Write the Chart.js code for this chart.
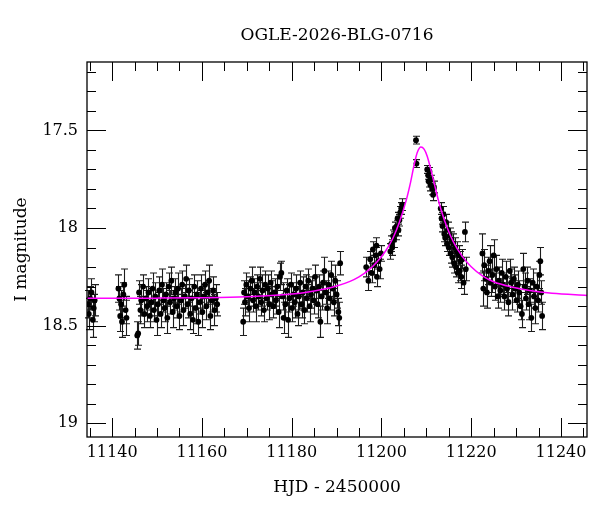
<!DOCTYPE html>
<html>
<head>
<meta charset="utf-8">
<title>OGLE-2026-BLG-0716</title>
<script src="https://cdn.jsdelivr.net/npm/chart.js@4.4.1/dist/chart.umd.min.js"></script>
<style>
  html, body { margin: 0; padding: 0; background: #fff; }
  #chart { display: block; }
</style>
</head>
<body>
<canvas id="chart" width="600" height="512"></canvas>
<script>
// OGLE I-band photometry (HJD - 2450000, mag, error)
const hjd = [
  11134.6, 11134.8, 11135.1, 11135.4, 11135.7, 11135.9, 11136.1,
  11141.4, 11141.6, 11141.8, 11142.0, 11142.2, 11142.5, 11142.7, 11143.0, 11143.2,
  11145.6, 11145.8, 11146.0, 11146.3, 11146.5, 11146.9, 11147.2, 11147.5, 11147.8, 11148.1,
  11148.4, 11148.7, 11149.0, 11149.3, 11149.6, 11149.9, 11150.2, 11150.5, 11150.8, 11151.1,
  11151.4, 11151.7, 11152.0, 11152.3, 11152.6, 11152.9, 11153.2, 11153.5, 11153.8, 11154.1,
  11154.4, 11154.7, 11155.0, 11155.3, 11155.6, 11155.9, 11156.2, 11156.5, 11156.8, 11157.1,
  11157.4, 11157.7, 11158.0, 11158.3, 11158.6, 11158.9, 11159.2, 11159.5, 11159.8, 11160.1,
  11160.4, 11160.7, 11161.0, 11161.3, 11161.6, 11161.9, 11162.2, 11162.5, 11162.8, 11163.1,
  11163.4,
  11169.2, 11169.4, 11169.6, 11169.9, 11170.2, 11170.5, 11170.8, 11171.1, 11171.4, 11171.7,
  11172.0, 11172.3, 11172.6, 11172.9, 11173.2, 11173.5, 11173.8, 11174.1, 11174.4, 11174.7,
  11175.0, 11175.3, 11175.6, 11175.9, 11176.2, 11176.5, 11176.8, 11177.1, 11177.4, 11177.7,
  11178.0, 11178.2, 11178.6, 11178.9, 11179.2, 11179.5, 11179.8, 11180.1, 11180.4, 11180.7,
  11181.0, 11181.3, 11181.6, 11181.9, 11182.2, 11182.5, 11182.8, 11183.1, 11183.4, 11183.7,
  11184.0, 11184.3, 11184.6, 11184.9, 11185.2, 11185.5, 11185.8, 11186.1, 11186.4, 11186.7,
  11187.0, 11187.3, 11187.6, 11187.9, 11188.2, 11188.5, 11188.8, 11189.1, 11189.4, 11189.7,
  11190.0, 11190.4, 11190.6, 11190.8,
  11196.6, 11197.1, 11197.5, 11197.8, 11198.1, 11198.4, 11198.7, 11198.9, 11199.0, 11199.3,
  11199.6, 11199.9,
  11202.0, 11202.2, 11202.4, 11202.6, 11202.8, 11203.0, 11203.2, 11203.4, 11203.6, 11203.8,
  11204.0, 11204.2, 11204.4, 11204.6,
  11207.7, 11207.8,
  11210.2, 11210.4, 11210.5, 11210.7, 11210.9, 11211.1, 11211.3, 11211.5, 11211.7,
  11213.2, 11213.4, 11213.6, 11213.8, 11214.0, 11214.2, 11214.4, 11214.6, 11214.8, 11215.0,
  11215.2, 11215.4, 11215.6, 11215.8, 11216.0, 11216.2, 11216.4, 11216.6, 11216.8, 11217.0,
  11217.2, 11217.4, 11217.6, 11217.8, 11218.0, 11218.3, 11218.6, 11218.8,
  11222.5, 11222.7, 11222.9, 11223.2, 11223.5, 11223.8, 11224.1, 11224.4, 11224.7, 11225.0,
  11225.3, 11225.6, 11225.9, 11226.2, 11226.5, 11226.8, 11227.1, 11227.4, 11227.7, 11228.0,
  11228.3, 11228.6, 11228.9, 11229.2, 11229.5, 11229.8, 11230.1, 11230.4, 11230.7, 11231.0,
  11231.3, 11231.6, 11231.9, 11232.2, 11232.5, 11232.8, 11233.1, 11233.4, 11233.7, 11234.0,
  11234.3, 11234.6, 11234.9, 11235.2, 11235.4, 11235.6, 11235.8
];

const mag = [
  18.39, 18.44, 18.36, 18.33, 18.47, 18.41, 18.37,
  18.31, 18.36, 18.45, 18.39, 18.48, 18.34, 18.29, 18.42, 18.46,
  18.55, 18.54, 18.33, 18.42, 18.37, 18.30, 18.44, 18.36, 18.40, 18.33,
  18.45, 18.38, 18.31, 18.42, 18.35, 18.47, 18.39, 18.32, 18.44, 18.29,
  18.37, 18.41, 18.34, 18.46, 18.30, 18.38, 18.27, 18.43, 18.36, 18.33,
  18.40, 18.31, 18.45, 18.37, 18.29, 18.42, 18.35, 18.26, 18.39, 18.32,
  18.44, 18.36, 18.47, 18.30, 18.41, 18.34, 18.48, 18.38, 18.31, 18.43,
  18.35, 18.29, 18.40, 18.33, 18.27, 18.45, 18.37, 18.32, 18.42, 18.36,
  18.39,
  18.48, 18.33, 18.38, 18.29, 18.35, 18.41, 18.31, 18.27, 18.37, 18.33,
  18.40, 18.30, 18.35, 18.26, 18.38, 18.32, 18.42, 18.29, 18.36, 18.31,
  18.39, 18.28, 18.34, 18.40, 18.33, 18.37, 18.30, 18.43, 18.25, 18.23,
  18.35, 18.46, 18.39, 18.32, 18.47, 18.36, 18.29, 18.41, 18.34, 18.38,
  18.31, 18.44, 18.35, 18.28, 18.39, 18.33, 18.42, 18.30, 18.36, 18.27,
  18.40, 18.34, 18.31, 18.37, 18.25, 18.32, 18.39, 18.30, 18.48, 18.35,
  18.28, 18.22, 18.33, 18.41, 18.29, 18.36, 18.24, 18.31, 18.38, 18.27,
  18.34, 18.43, 18.46, 18.18,
  18.20, 18.27, 18.16, 18.23, 18.11, 18.19, 18.14, 18.09, 18.25, 18.17,
  18.21, 18.13,
  18.12, 18.08, 18.10, 18.04, 18.06, 18.00, 18.03, 17.99, 17.95, 18.01,
  17.96, 17.92, 17.90, 17.88,
  17.55, 17.67,
  17.70, 17.73, 17.76, 17.71, 17.78, 17.75, 17.80, 17.83, 17.79,
  17.90, 17.95, 17.99, 17.93, 18.03, 18.05, 17.97, 18.08, 18.01, 18.10,
  18.04, 18.13, 18.06, 18.15, 18.08, 18.18, 18.10, 18.20, 18.12, 18.23,
  18.14, 18.22, 18.17, 18.25, 18.16, 18.28, 18.02, 18.21,
  18.13, 18.31, 18.19, 18.26, 18.33, 18.22, 18.17, 18.28, 18.24, 18.14,
  18.30, 18.21, 18.35, 18.27, 18.32, 18.23, 18.29, 18.35, 18.25, 18.31,
  18.38, 18.22, 18.28, 18.34, 18.26, 18.31, 18.37, 18.29, 18.33, 18.40,
  18.44, 18.21, 18.30, 18.36, 18.27, 18.39, 18.32, 18.46, 18.28, 18.35,
  18.41, 18.30, 18.37, 18.24, 18.17, 18.33, 18.45
];

const magErr = [
  0.07, 0.08, 0.06, 0.07, 0.09, 0.07, 0.08,
  0.07, 0.06, 0.08, 0.07, 0.08, 0.06, 0.08, 0.07, 0.09,
  0.07, 0.06, 0.06, 0.07, 0.08, 0.06, 0.07, 0.06, 0.08, 0.07,
  0.06, 0.07, 0.08, 0.06, 0.07, 0.08, 0.06, 0.07, 0.07, 0.08,
  0.06, 0.07, 0.06, 0.08, 0.07, 0.06, 0.07, 0.08, 0.06, 0.07,
  0.06, 0.08, 0.07, 0.06, 0.07, 0.08, 0.06, 0.07, 0.07, 0.06,
  0.08, 0.07, 0.07, 0.06, 0.08, 0.07, 0.07, 0.06, 0.07, 0.08,
  0.06, 0.07, 0.07, 0.06, 0.08, 0.07, 0.06, 0.07, 0.08, 0.07,
  0.06,
  0.07, 0.06, 0.07, 0.06, 0.08, 0.07, 0.06, 0.07, 0.06, 0.07,
  0.08, 0.06, 0.07, 0.06, 0.07, 0.08, 0.06, 0.07, 0.06, 0.07,
  0.08, 0.06, 0.07, 0.06, 0.07, 0.07, 0.06, 0.08, 0.07, 0.06,
  0.07, 0.08, 0.07, 0.06, 0.09, 0.07, 0.06, 0.07, 0.06, 0.08,
  0.07, 0.06, 0.07, 0.06, 0.07, 0.08, 0.07, 0.06, 0.07, 0.06,
  0.08, 0.07, 0.06, 0.07, 0.06, 0.07, 0.07, 0.06, 0.08, 0.07,
  0.06, 0.07, 0.06, 0.08, 0.07, 0.06, 0.07, 0.06, 0.07, 0.08,
  0.07, 0.07, 0.08, 0.06,
  0.05, 0.05, 0.04, 0.05, 0.04, 0.05, 0.04, 0.04, 0.05, 0.04,
  0.05, 0.04,
  0.04, 0.04, 0.04, 0.03, 0.04, 0.03, 0.03, 0.03, 0.03, 0.03,
  0.03, 0.03, 0.03, 0.03,
  0.02, 0.02,
  0.02, 0.02, 0.03, 0.02, 0.03, 0.02, 0.03, 0.03, 0.03,
  0.03, 0.03, 0.03, 0.04, 0.04, 0.04, 0.04, 0.04, 0.04, 0.04,
  0.04, 0.05, 0.04, 0.05, 0.05, 0.05, 0.05, 0.05, 0.05, 0.05,
  0.05, 0.05, 0.05, 0.06, 0.05, 0.06, 0.05, 0.06,
  0.10, 0.09, 0.08, 0.07, 0.08, 0.07, 0.08, 0.07, 0.09, 0.08,
  0.07, 0.07, 0.06, 0.07, 0.06, 0.07, 0.06, 0.07, 0.08, 0.06,
  0.07, 0.06, 0.07, 0.08, 0.06, 0.07, 0.06, 0.07, 0.06, 0.07,
  0.07, 0.08, 0.07, 0.06, 0.07, 0.08, 0.06, 0.07, 0.07, 0.06,
  0.08, 0.07, 0.06, 0.07, 0.07, 0.06, 0.07
];

// microlensing model curve
const modelHjd = [
  11134.4, 11150.0, 11160.0, 11170.0, 11178.0, 11183.0, 11187.0, 11190.0, 11193.0, 11195.0,
  11197.0, 11199.0, 11201.0, 11202.5, 11204.0, 11205.5, 11206.5, 11207.3, 11208.0, 11208.8,
  11209.5, 11210.2, 11211.0, 11211.8, 11212.6, 11213.4, 11214.5, 11216.0, 11218.0, 11220.0,
  11222.5, 11225.0, 11229.0, 11233.0, 11238.0, 11245.8
];
const modelMag = [
  18.360, 18.359, 18.357, 18.352, 18.342, 18.330, 18.314, 18.297, 18.273, 18.250,
  18.218, 18.174, 18.115, 18.055, 17.970, 17.860, 17.765, 17.675, 17.612, 17.585,
  17.596, 17.632, 17.700, 17.775, 17.850, 17.915, 17.990, 18.070, 18.145, 18.198,
  18.245, 18.275, 18.302, 18.320, 18.334, 18.345
];

const xTicks = [11140, 11160, 11180, 11200, 11220, 11240];
const yTicks = [17.5, 18, 18.5, 19];

const FONT = "'DejaVu Serif', 'Liberation Serif', serif";

// vertical error bars with small caps, under the points
const errorBars = {
  id: "errorBars",
  beforeDatasetsDraw(chart) {
    const { ctx, scales: { x, y } } = chart;
    ctx.save();
    ctx.strokeStyle = "#1c1c1c";
    ctx.lineWidth = 1.1;
    ctx.beginPath();
    hjd.forEach((t, i) => {
      const px = Math.round(x.getPixelForValue(t)) + 0.5;
      const top = y.getPixelForValue(mag[i] - magErr[i]);
      const bot = y.getPixelForValue(mag[i] + magErr[i]);
      ctx.moveTo(px, top);
      ctx.lineTo(px, bot);
      ctx.moveTo(px - 3.5, top);
      ctx.lineTo(px + 3.5, top);
      ctx.moveTo(px - 3.5, bot);
      ctx.lineTo(px + 3.5, bot);
    });
    ctx.stroke();
    ctx.restore();
  }
};

// box frame with inward ticks on all four sides
const frame = {
  id: "frame",
  afterDraw(chart) {
    const { ctx, chartArea: a, scales: { x, y } } = chart;
    ctx.save();
    ctx.strokeStyle = "#000";
    ctx.lineWidth = 1.3;
    ctx.strokeRect(a.left, a.top, a.right - a.left, a.bottom - a.top);
    ctx.lineWidth = 1;
    ctx.beginPath();
    for (let v = 11135; v <= 11245; v += 5) {
      const px = Math.round(x.getPixelForValue(v)) + 0.5;
      const len = v % 20 === 0 ? 19 : 9;
      ctx.moveTo(px, a.bottom);
      ctx.lineTo(px, a.bottom - len);
      ctx.moveTo(px, a.top);
      ctx.lineTo(px, a.top + len);
    }
    for (let k = 172; k <= 190; k++) {
      const v = k / 10;
      const py = Math.round(y.getPixelForValue(v)) + 0.5;
      const len = k % 5 === 0 ? 19 : 9;
      ctx.moveTo(a.left, py);
      ctx.lineTo(a.left + len, py);
      ctx.moveTo(a.right, py);
      ctx.lineTo(a.right - len, py);
    }
    ctx.stroke();
    ctx.restore();
  }
};

const ctx = document.getElementById("chart").getContext("2d");

new Chart(ctx, {
  type: "scatter",
  data: {
    datasets: [
      {
        type: "line",
        label: "Model",
        data: modelHjd.map((t, i) => ({ x: t, y: modelMag[i] })),
        borderColor: "#ff00ff",
        borderWidth: 1.5,
        pointRadius: 0,
        fill: false,
        cubicInterpolationMode: "monotone",
        order: 0,
      },
      {
        type: "scatter",
        label: "OGLE I",
        data: hjd.map((t, i) => ({ x: t, y: mag[i] })),
        backgroundColor: "#000",
        borderColor: "#000",
        borderWidth: 0,
        pointRadius: 2.9,
        order: 1,
      },
    ],
  },
  options: {
    responsive: false,
    animation: false,
    layout: { padding: { left: 0, right: 13, top: 0, bottom: 0 } },
    plugins: {
      legend: { display: false },
      tooltip: { enabled: false },
      title: {
        display: true,
        text: "OGLE-2026-BLG-0716",
        fullSize: false,
        color: "#000",
        font: { family: FONT, size: 17, weight: "normal", lineHeight: 1.2 },
        padding: { top: 25, bottom: 16.6 },
      },
    },
    scales: {
      x: {
        type: "linear",
        position: "bottom",
        min: 11134.4,
        max: 11245.8,
        grid: { display: false, drawTicks: false },
        border: { display: false },
        afterBuildTicks: (s) => { s.ticks = xTicks.map((v) => ({ value: v })); },
        afterFit: (s) => { s.height = 75; },
        ticks: {
          color: "#000",
          font: { family: FONT, size: 16 },
          padding: 6,
          maxRotation: 0,
          autoSkip: false,
          callback: (v) => String(v),
        },
        title: {
          display: true,
          text: "HJD - 2450000",
          color: "#000",
          font: { family: FONT, size: 17, lineHeight: 1.2 },
          padding: { top: 0, bottom: 14 },
        },
      },
      y: {
        type: "linear",
        position: "left",
        reverse: true,
        min: 17.15,
        max: 19.07,
        grid: { display: false, drawTicks: false },
        border: { display: false },
        afterBuildTicks: (s) => { s.ticks = yTicks.map((v) => ({ value: v })); },
        afterFit: (s) => { s.width = 87; },
        ticks: {
          color: "#000",
          font: { family: FONT, size: 16 },
          padding: 9,
          autoSkip: false,
          callback: (v) => String(v),
        },
        title: {
          display: true,
          text: "I magnitude",
          color: "#000",
          font: { family: FONT, size: 17, lineHeight: 1.2 },
          padding: { top: 11, bottom: 0 },
        },
      },
    },
  },
  plugins: [errorBars, frame],
});
</script>
</body>
</html>
